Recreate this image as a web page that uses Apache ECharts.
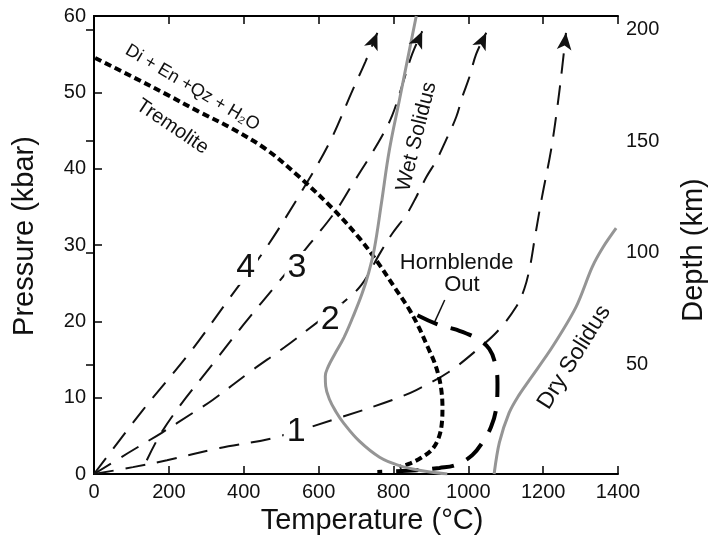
<!DOCTYPE html>
<html>
<head>
<meta charset="utf-8">
<script src="https://cdn.jsdelivr.net/npm/echarts@6/dist/echarts.min.js"></script>
<style>
  html, body { margin: 0; background: #fff; }
  #chart { width: 712px; height: 542px; }
</style>
</head>
<body>
<div id="chart"></div>
<script>
// temperature (C), pressure (kbar) pairs
const geotherm1 = [[0,0],[104,0.9],[195,1.8],[336,3.4],[477,4.7],[664,7.5],[797,9.7],[861,11.0],[949,13.4],[1029,16.5],[1080,18.8],[1128,21.9],[1150,24.3],[1165,27.2],[1178,31],[1197,36.3],[1221,42.4],[1237,47.7],[1251,53.3],[1261,57.8]];
const geotherm2 = [[0,0],[91,2.75],[181,5.4],[264,8.0],[317,9.7],[420,13.5],[509,16.6],[600,20],[664,22.4],[715,24.8],[765,29],[797,31.5],[835,34],[861,36.3],[888,38.9],[915,41.1],[941,43.8],[968,46.8],[984,49.4],[1003,52],[1021,55],[1048,57.8]];
const geotherm3 = [[141,1.8],[176,5.1],[229,8.9],[317,14.4],[400,19.6],[496,25.3],[576,30.1],[648,34.6],[691,38],[736,41.5],[771,44.4],[797,47],[824,51],[850,55],[877,58]];
const geotherm4 = [[0,0],[131,8.4],[256,15.9],[363,23.1],[461,29.7],[557,37.2],[630,43.5],[691,50.3],[725,54],[757,57.8]];
const tremolite = [[3,54.5],[104,52.0],[195,49.7],[283,47.4],[371,45.2],[461,42.5],[549,38.9],[637,34.8],[709,30.9],[760,27.6],[805,24.3],[843,21.5],[868,19.2],[891,16.7],[909,14.7],[921,12.8],[928,11.0],[931,8.8],[930,7.0],[922,4.9],[903,3.2],[873,2.1],[845,1.4],[816,0.9]];
const hornblendeOut = [[864,20.8],[923,19.5],[968,18.9],[1021,17.8],[1056,16.4],[1073,14.2],[1078,11.9],[1075,8.8],[1061,6.2],[1037,4.1],[1011,2.5],[968,1.2],[923,0.8],[861,0.5],[757,0.26]];
const wetSolidus = [[861,60],[843,55.6],[816,49],[789,42.4],[768,35.5],[749,29.5],[734,26.4],[716,23.6],[692,20.6],[667,17.8],[642,15.6],[626,14.1],[618,12.8],[619,11.5],[629,9.8],[646,8.2],[668,6.6],[709,4.3],[763,2.2],[816,1.1],[869,0.5],[944,0]];
const drySolidus = [[1069,0],[1083,4.1],[1109,8.0],[1135,10.3],[1163,12.3],[1224,16.6],[1288,21.9],[1331,27.1],[1360,29.7],[1395,32.2]];

const depthTicks = [50, 100, 150, 200];

// text labels: [text, T, P, rotation deg, font size, white backing]
const labels = [
  ['4', 405, 27.0, 0, 34, true],
  ['3', 542, 27.0, 0, 34, true],
  ['2', 631, 20.2, 0, 34, true],
  ['1', 540, 5.5, 0, 34, true],
  ['Hornblende', 969, 27.6, 0, 22, false],
  ['Out', 983, 24.8, 0, 22, false],
  ['Di + En +Qz + H\u2082O', 263, 50.6, -30.5, 18, false],
  ['Tremolite', 209, 45.5, -34, 20, false],
  ['Wet Solidus', 862, 44.2, 76, 21, false],
  ['Dry Solidus', 1283, 15.3, 58, 23, false]
];
const leader = [[937, 22.8], [910, 19.9]];

const FONT = '"Liberation Sans", Arial, sans-serif';
const chart = echarts.init(document.getElementById('chart'));

function geo(name, data) {
  return {
    name: name, type: 'line', data: data,
    symbol: 'none', showSymbol: true, smooth: 0.35, silent: true,
    itemStyle: { color: '#111' },
    lineStyle: { color: '#111', width: 2, type: [20, 12] }
  };
}

const axisLine = { show: true, lineStyle: { color: '#000', width: 2 } };
const tick = { show: true, inside: true, length: 8, lineStyle: { color: '#000', width: 1.5 } };
const lbl = { color: '#111', fontSize: 20, fontFamily: FONT, formatter: v => String(v) };

chart.setOption({
  animation: false,
  grid: { left: 94, right: 94, top: 16, bottom: 68 },
  xAxis: [
    { type: 'value', min: 0, max: 1400, interval: 200, position: 'bottom',
      axisLine: axisLine, axisTick: tick, splitLine: { show: false },
      axisLabel: Object.assign({ margin: 8 }, lbl) },
    { type: 'value', min: 0, max: 1400, interval: 200, position: 'top',
      axisLine: axisLine, axisTick: tick, splitLine: { show: false },
      axisLabel: { show: false } }
  ],
  yAxis: [
    { type: 'value', min: 0, max: 60, interval: 10, position: 'left',
      axisLine: axisLine, axisTick: tick, splitLine: { show: false },
      axisLabel: Object.assign({ margin: 8 }, lbl) },
    { type: 'value', min: 1, max: 206, position: 'right',
      axisLine: axisLine, splitLine: { show: false },
      axisTick: Object.assign({ customValues: depthTicks }, tick),
      axisLabel: Object.assign({ margin: 8, customValues: depthTicks }, lbl) }
  ],
  series: [
    geo('1', geotherm1), geo('2', geotherm2), geo('3', geotherm3), geo('4', geotherm4),
    { name: 'Tremolite', type: 'line', data: tremolite, symbol: 'none', smooth: 0.35, silent: true,
      lineStyle: { color: '#000', width: 4, type: [7, 4] } },
    { name: 'Hornblende Out', type: 'line', data: hornblendeOut, symbol: 'none', smooth: 0.4, silent: true,
      lineStyle: { color: '#000', width: 4, type: [22, 14] } },
    { name: 'Wet Solidus', type: 'line', data: wetSolidus, symbol: 'none', smooth: 0.4, silent: true,
      lineStyle: { color: '#959595', width: 3 } },
    { name: 'Dry Solidus', type: 'line', data: drySolidus, symbol: 'none', smooth: 0.3, silent: true,
      lineStyle: { color: '#959595', width: 3 } }
  ]
});

// point the arrowheads along the last segment of each geotherm
const px = p => chart.convertToPixel({ gridIndex: 0 }, p);
const arrowRot = d => {
  const a = px(d[d.length - 2]), b = px(d[d.length - 1]);
  return -Math.atan2(b[0] - a[0], a[1] - b[1]) * 180 / Math.PI;
};
const geos = [geotherm1, geotherm2, geotherm3, geotherm4];
chart.setOption({
  series: geos.map(d => ({
    data: d.map((v, i) => i === d.length - 1
      ? { value: v, symbol: 'arrow', symbolSize: [11, 17], symbolRotate: arrowRot(d),
          itemStyle: { color: '#111' } }
      : { value: v })
  }))
});

const graphics = labels.map(l => {
  const p = px([l[1], l[2]]);
  const style = { text: l[0], fontSize: l[4], fontFamily: FONT, fill: '#111', align: 'center', verticalAlign: 'middle' };
  if (l[5]) { style.backgroundColor = '#fff'; style.padding = [0, 3]; }
  return { type: 'text', x: p[0], y: p[1], rotation: l[3] * Math.PI / 180, silent: true, z: 10, style: style };
});
const l0 = px(leader[0]), l1 = px(leader[1]);
graphics.push({ type: 'line', silent: true, shape: { x1: l0[0], y1: l0[1], x2: l1[0], y2: l1[1] },
  style: { stroke: '#111', lineWidth: 1.5 } });
// axis titles
graphics.push(
  { type: 'text', x: 25, y: 236, rotation: Math.PI / 2, silent: true,
    style: { text: 'Pressure (kbar)', fontSize: 29, fontFamily: FONT, fill: '#111', align: 'center', verticalAlign: 'middle' } },
  { type: 'text', x: 372, y: 521, silent: true,
    style: { text: 'Temperature (\u00B0C)', fontSize: 29, fontFamily: FONT, fill: '#111', align: 'center', verticalAlign: 'middle' } },
  { type: 'text', x: 694, y: 250, rotation: Math.PI / 2, silent: true,
    style: { text: 'Depth (km)', fontSize: 29, fontFamily: FONT, fill: '#111', align: 'center', verticalAlign: 'middle' } }
);
chart.setOption({ graphic: graphics });
</script>
</body>
</html>
